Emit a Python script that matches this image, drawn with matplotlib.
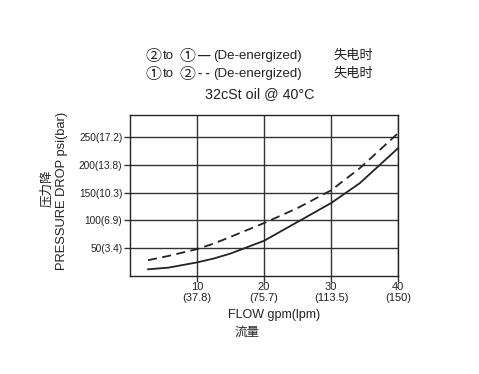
import matplotlib.pyplot as plt

plt.rcParams['font.family'] = ['Liberation Sans', 'Noto Sans CJK SC', 'DejaVu Sans']

# flow gpm, pressure drop psi
flow_solid = [2.7, 5.7, 10, 12.5, 15, 20, 25, 30, 34.3, 40]
psi_solid = [11.6, 14.5, 24, 31, 40, 63, 97, 131, 167, 230]
flow_dash = [2.7, 5.7, 10, 12.5, 15, 20, 25, 30, 34.3, 40]
psi_dash = [28, 35.6, 48, 58, 70, 95, 122, 154, 194, 257]

xticks = [10, 20, 30, 40]
xlabels = ["10\n(37.8)", "20\n(75.7)", "30\n(113.5)", "40\n(150)"]
yticks = [50, 100, 150, 200, 250]
ylabels = ["50(3.4)", "100(6.9)", "150(10.3)", "200(13.8)", "250(17.2)"]

fig = plt.figure(figsize=(4.79, 3.74), dpi=100)
ax = fig.add_axes([0.2714, 0.2628, 0.5595, 0.4297])

ax.plot(flow_solid, psi_solid, color='#222222', lw=1.3)
ax.plot(flow_dash, psi_dash, color='#222222', lw=1.3, ls=(0, (5, 3)))

ax.set_xlim(0, 40)
ax.set_ylim(0, 290)
ax.set_xticks(xticks)
ax.set_xticklabels(xlabels, fontsize=8, linespacing=1.1)
ax.set_yticks(yticks)
ax.set_yticklabels(ylabels, fontsize=7.3)
ax.tick_params(length=4, width=1, color='#333333', pad=1.5, labelcolor='#222222')
ax.tick_params(axis='x', pad=0.5)
ax.grid(True, color='#333333', lw=1)
for s in ax.spines.values():
    s.set_color('#222222')
    s.set_linewidth(1)

fig.text(0.572, 0.158, "FLOW gpm(lpm)", fontsize=9, ha='center', va='center', color='#222222')
fig.text(0.516, 0.110, "流量", fontsize=9, ha='center', va='center', color='#222222')
fig.text(0.130, 0.49, "PRESSURE DROP psi(bar)", fontsize=9.3, rotation=90,
         ha='center', va='center', color='#222222')
fig.text(0.098, 0.497, "压力降", fontsize=9, rotation=90,
         ha='center', va='center', color='#222222')

# header, pieces placed by pixel x
W = 479.0
rows = [(0.850, "②", "①", "—"), (0.802, "①", "②", "- -")]
for y, a, b, mark in rows:
    fig.text(145 / W, y, a, fontsize=11.5, ha='left', va='center', color='#222222')
    fig.text(162.5 / W, y, "to", fontsize=9.5, ha='left', va='center', color='#222222')
    fig.text(179 / W, y, b, fontsize=11.5, ha='left', va='center', color='#222222')
    fig.text(198 / W, y, mark, fontsize=9, ha='left', va='center', color='#222222',
             fontweight='bold')
    fig.text(213 / W, y, "(De-energized)", fontsize=9.5, ha='left', va='center', color='#222222')
    fig.text(333 / W, y, "失电时", fontsize=9.5, ha='left', va='center', color='#222222')
fig.text(260 / W, 0.749, "32cSt oil @ 40°C", fontsize=10.3, ha='center', va='center', color='#222222')

fig.savefig("out.png", dpi=100)
